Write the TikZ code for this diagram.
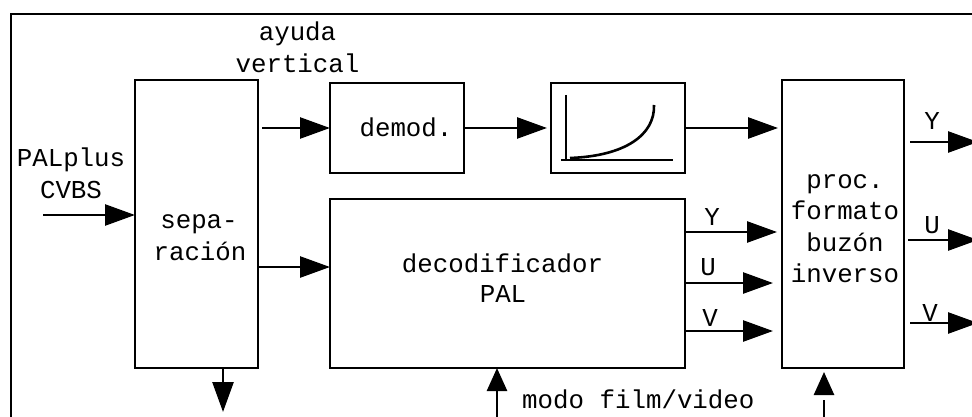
\documentclass[tikz,border=0pt]{standalone}
\usepackage{fontspec}
\setmainfont{Liberation Mono}
\usetikzlibrary{arrows.meta}
\tikzset{
  blk/.style={draw, line width=2.6pt, inner sep=0pt, outer sep=0pt},
  txt/.style={inner sep=0pt, anchor=base, font=\fontsize{25.8}{31}\selectfont},
  arr/.style={line width=2.6pt, -{Triangle[length=30pt,width=21pt]}},
  arrv/.style={line width=2.6pt, -{Triangle[length=23pt,width=20pt]}},
  thin/.style={line width=2.6pt}
}
\begin{document}
\begin{tikzpicture}[x=1pt,y=-1pt]
\useasboundingbox (0,0) rectangle (972,417);
% frame
\draw[thin] (11,417) -- (11,14) -- (972,14);
% blocks
\node[blk, minimum width=123pt, minimum height=288pt] (sep) at (196.5,224) {};
\node[blk, minimum width=134pt, minimum height=90pt] (demod) at (397,128) {};
\node[blk, minimum width=134pt, minimum height=90pt] (cur) at (618,128) {};
\node[blk, minimum width=355pt, minimum height=169pt] (dec) at (507.5,283.5) {};
\node[blk, minimum width=122pt, minimum height=288pt] (proc) at (843,224) {};
% curve symbol
\draw[thin] (566,95) -- (566,160);
\draw[thin] (561,160) -- (673,160);
\draw[thin] (570,158) .. controls (625,156) and (655,135) .. (654,105);
% texts
\node[txt] (t1) at (297.5,41) {ayuda};
\node[txt] (t2) at (297.5,73) {vertical};
\node[txt] (t3) at (71,167) {PALplus};
\node[txt] (t4) at (71,198) {CVBS};
\node[txt] (t5) at (199,228) {sepa-};
\node[txt] (t6) at (200,260) {ración};
\node[txt] (t7) at (406,137) {demod.};
\node[txt] (t8) at (502.5,272) {decodificador};
\node[txt] (t9) at (503,302) {PAL};
\node[txt] (t10) at (845,188) {proc.};
\node[txt] (t11) at (845,219.5) {formato};
\node[txt] (t12) at (845,251) {buzón};
\node[txt] (t13) at (845,282) {inverso};
\node[txt, anchor=base west] (t14) at (522,408) {modo film/video};
\node[txt] (ly1) at (712,225) {Y};
\node[txt] (lu1) at (708,275) {U};
\node[txt] (lv1) at (710,326) {V};
\node[txt] (ly2) at (932,130) {Y};
\node[txt] (lu2) at (932,233) {U};
\node[txt] (lv2) at (930,321) {V};
% connectors
\coordinate (inp) at (43,215);
\draw[arr] (inp) -- (inp -| sep.west);
\draw[arr, shorten <=4pt] (sep.east |- demod.west) -- (demod.west);
\coordinate (s2) at ([yshift=-43pt]sep.east);
\draw[arr] (s2) -- (s2 -| dec.west);
\draw[arr, shorten >=4pt] (demod.east) -- (cur.west);
\draw[arr, shorten >=4pt] (cur.east) -- (cur.east -| proc.west);
\coordinate (dy) at ([yshift=51.5pt]dec.east);
\coordinate (du) at ([yshift=0.5pt]dec.east);
\coordinate (dv) at ([yshift=-47.5pt]dec.east);
\draw[arr, shorten >=5pt] (dy) -- (dy -| proc.west);
\draw[arr, shorten >=9pt] (du) -- (du -| proc.west);
\draw[arr, shorten >=9pt] (dv) -- (dv -| proc.west);
\coordinate (oy) at (978,142);
\coordinate (ou) at (978,240);
\coordinate (ov) at (978,323);
\draw[arr, shorten <=6pt] (proc.east |- oy) -- (oy);
\draw[arr, shorten <=4pt] (proc.east |- ou) -- (ou);
\draw[arr, shorten <=6pt] (proc.east |- ov) -- (ov);
\coordinate (sd) at (223,412);
\draw[arr] (sd |- sep.south) -- (sd);
\coordinate (dm) at (497,417);
\draw[arrv] (dm) -- (dm |- dec.south);
\coordinate (pm) at (824,417);
\draw[arrv, shorten >=4pt, dash pattern=on 17pt off 200pt] (pm) -- (pm |- proc.south);
\end{tikzpicture}
\end{document}
